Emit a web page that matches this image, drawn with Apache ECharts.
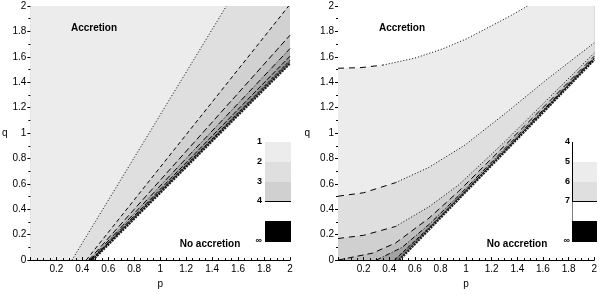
<!DOCTYPE html>
<html><head><meta charset="utf-8">
<script src="https://cdn.jsdelivr.net/npm/echarts@6/dist/echarts.min.js"></script>
<style>html,body{margin:0;padding:0;background:#fff}#c{width:600px;height:294px}</style>
</head><body><div id="c"></div>
<script>
// ---- axis settings ----
const axisMin = 0, axisMax = 2, axisStep = 0.2;
const xName = 'p', yName = 'q';

// ---- left panel: contour lines (p, q), from accretion side toward the no-accretion edge ----
const leftL1 = [[0.32, 0], [1.51, 2]];
const leftL2 = [[0.43, 0], [1.99, 2]];
const leftL3 = [[0.45, 0], [2, 1.77]];
const leftL4 = [[0.46, 0], [2, 1.665]];
const leftL5 = [[0.468, 0], [2, 1.605]];
const leftL6 = [[0.474, 0], [2, 1.572]];
const leftEdge = [[0.48, 0], [2, 1.548]];

// ---- right panel: contour curves (p, q) ----
const rightC1 = [[0, 1.51], [0.18, 1.515], [0.35, 1.535], [0.6, 1.59], [0.81, 1.66], [1.0, 1.74], [1.2, 1.845], [1.35, 1.925], [1.48, 2]];
const rightC2 = [[0, 0.503], [0.2, 0.53], [0.45, 0.61], [0.71, 0.73], [0.99, 0.905], [1.3, 1.15], [1.64, 1.43], [2, 1.71]];
const rightC3 = [[0, 0.17], [0.2, 0.195], [0.45, 0.265], [0.71, 0.42], [0.94, 0.59], [1.3, 0.93], [1.65, 1.28], [2, 1.63]];
const rightC4 = [[0, 0], [0.27, 0.055], [0.45, 0.135], [0.71, 0.33], [0.94, 0.54], [1.3, 0.9], [1.65, 1.25], [2, 1.605]];
const rightC5 = [[0.3, 0], [0.5, 0.1], [0.71, 0.28], [0.94, 0.505], [1.3, 0.875], [1.65, 1.232], [2, 1.592]];
const rightC6 = [[0.44, 0], [0.7, 0.245], [1.0, 0.548], [1.5, 1.066], [2, 1.585]];
const rightEdge = [[0.478, 0], [1.0, 0.541], [1.5, 1.059], [2, 1.577]];

// ---- legend levels ----
const leftLevels = ['1', '2', '3', '4'];
const rightLevels = ['4', '5', '6', '7'];
const infLabel = '\u221e';

// ---- texts ----
const accText = 'Accretion';
const noAccText = 'No accretion';

// ---- styles ----
const leftCurves = [leftL1, leftL2, leftL3, leftL4, leftL5, leftL6, leftEdge];
const leftFills = ['#ececec', '#dfdfdf', '#d1d1d1', '#c2c2c2', '#adadad', '#959595', '#6e6e6e'];
const leftDash = [[1, 2], [4, 3], [6, 3], [6, 2, 1, 2], [5, 2], [3, 2]];
const rightCurves = [rightC1, rightC2, rightC3, rightC4, rightC5, rightC6, rightEdge];
const rightFills = ['#ffffff', '#ececec', '#dfdfdf', '#d0d0d0', '#bdbdbd', '#a3a3a3', '#7a7a7a'];
const rightDash = [[1, 2], [1, 2], [1, 2], [6, 4], [5, 2, 1, 2], [4, 2]];

function perim(pt) {
  const p = pt[0], q = pt[1], e = 1e-6;
  if (Math.abs(p - 2) < e) return q;
  if (Math.abs(q - 2) < e) return 2 + (2 - p);
  if (Math.abs(p) < e) return 4 + (2 - q);
  return 6 + p;
}
const corners = [[2, 2, 2], [4, 0, 2], [6, 0, 0]];
function accretionSide(curve) {
  const ts = perim(curve[0]), te = perim(curve[curve.length - 1]);
  const pts = curve.slice();
  corners.forEach(c => { if (c[0] > te && c[0] < ts) pts.push([c[1], c[2]]); });
  return pts;
}

function fillSeries(curves, fills, idx) {
  const order = curves.map((c, i) => i).reverse();
  return {
    type: 'custom', xAxisIndex: idx, yAxisIndex: idx, z: 1, silent: true, clip: true,
    data: order.map(i => curves[i][0].concat([i])),
    renderItem: function (params, api) {
      const i = order[params.dataIndex];
      const pts = accretionSide(curves[i]).map(pt => api.coord(pt));
      return { type: 'polygon', shape: { points: pts }, style: { fill: fills[i], stroke: null } };
    }
  };
}

function lineSeries(data, idx, type, width, color, z) {
  return {
    type: 'line', xAxisIndex: idx, yAxisIndex: idx, data: data, showSymbol: false, symbol: 'none',
    silent: true, z: z || 3, animation: false,
    lineStyle: { color: color || '#000', width: width || 1, type: type }
  };
}

const series = [fillSeries(leftCurves, leftFills, 0), fillSeries(rightCurves, rightFills, 1)];
for (let i = 0; i < 6; i++) series.push(lineSeries(leftCurves[i], 0, leftDash[i], 1));
series.push(lineSeries(leftEdge, 0, [2, 1], 2.4, '#1e1e1e', 4));
for (let i = 0; i < 6; i++) {
  const c = rightCurves[i];
  if (i < 3) {
    series.push(lineSeries(c.slice(0, 3), 1, [6, 5], 1));
    series.push(lineSeries(c.slice(2), 1, rightDash[i], 1));
  } else {
    series.push(lineSeries(c, 1, rightDash[i], 1));
  }
}
series.push(lineSeries(rightEdge, 1, [2, 1], 2.4, '#1e1e1e', 4));

const FONT = 'Liberation Sans, Arial, sans-serif';
function xAx(gi) {
  return {
    type: 'value', gridIndex: gi, min: axisMin, max: axisMax, interval: axisStep, z: 10,
    name: xName, nameLocation: 'middle', nameGap: 18,
    nameTextStyle: { fontSize: 10, color: '#000', fontFamily: FONT },
    axisLine: { show: true, lineStyle: { color: '#000', width: 1 } },
    axisTick: { show: true, inside: true, length: 3, lineStyle: { color: '#000' } },
    minorTick: { show: true, splitNumber: 4, length: 2, lineStyle: { color: '#000' } },
    axisLabel: { fontSize: 10, color: '#000', margin: 4, fontFamily: FONT, formatter: v => v === 0 ? '' : String(v) },
    splitLine: { show: false }, minorSplitLine: { show: false }
  };
}
function yAx(gi, gap) {
  return {
    type: 'value', gridIndex: gi, min: axisMin, max: axisMax, interval: axisStep, z: 10,
    name: yName, nameLocation: 'middle', nameGap: gap, nameRotate: 0,
    nameTextStyle: { fontSize: 10, color: '#000', fontFamily: FONT },
    axisLine: { show: false },
    axisTick: { show: true, inside: false, length: 3, lineStyle: { color: '#000' } },
    minorTick: { show: true, splitNumber: 2, length: 2, lineStyle: { color: '#000' } },
    axisLabel: { fontSize: 10, color: '#000', margin: 4, fontFamily: FONT },
    splitLine: { show: false }, minorSplitLine: { show: false }
  };
}

function legendGraphics(x0, w, ys, fills, levels, labelX, rightStyle) {
  const g = [];
  for (let i = 0; i < fills.length; i++) {
    if (fills[i]) g.push({ type: 'rect', shape: { x: x0, y: ys[i], width: w, height: ys[i + 1] - ys[i] }, style: { fill: fills[i] } });
  }
  const yl = ys[ys.length - 1] + 0.5;
  g.push({ type: 'line', shape: { x1: x0, y1: yl, x2: x0 + w, y2: yl }, style: { stroke: '#000', lineWidth: 1 } });
  if (rightStyle) {
    g.push({ type: 'line', shape: { x1: x0 + 0.5, y1: ys[0], x2: x0 + 0.5, y2: yl }, style: { stroke: '#000', lineWidth: 1 } });
    g.push({ type: 'line', shape: { x1: x0 + 0.5, y1: yl, x2: x0 + 0.5, y2: 221 }, style: { stroke: '#000', lineWidth: 1, lineDash: [1, 1] } });
  }
  g.push({ type: 'rect', shape: { x: x0, y: 221, width: w, height: 21 }, style: { fill: '#000' } });
  levels.forEach((t, i) => g.push({ type: 'text', x: labelX, y: ys[i], style: { text: t, fill: '#000', font: 'bold 9px ' + FONT, align: 'right', verticalAlign: 'middle' } }));
  g.push({ type: 'text', x: labelX, y: 241, style: { text: infLabel, fill: '#000', font: 'bold 9px ' + FONT, align: 'right', verticalAlign: 'middle' } });
  return g;
}

const graphics = [].concat(
  legendGraphics(265, 26, [142, 162, 182, 201], ['#ececec', '#dfdfdf', '#d0d0d0'], leftLevels, 262, false),
  legendGraphics(572, 25, [142, 162, 182, 201], [null, '#ececec', '#dfdfdf'], rightLevels, 570, true),
  [
    { type: 'text', x: 94, y: 28, style: { text: accText, fill: '#000', font: 'bold 10px ' + FONT, align: 'center', verticalAlign: 'middle' } },
    { type: 'text', x: 402, y: 28, style: { text: accText, fill: '#000', font: 'bold 10px ' + FONT, align: 'center', verticalAlign: 'middle' } },
    { type: 'text', x: 210, y: 244, style: { text: noAccText, fill: '#000', font: 'bold 10px ' + FONT, align: 'center', verticalAlign: 'middle' } },
    { type: 'text', x: 517, y: 244, style: { text: noAccText, fill: '#000', font: 'bold 10px ' + FONT, align: 'center', verticalAlign: 'middle' } }
  ]
);

const chart = echarts.init(document.getElementById('c'), null, { renderer: 'canvas' });
chart.setOption({
  animation: false,
  backgroundColor: '#fff',
  grid: [
    { left: 30, top: 6, width: 260, height: 258 },
    { left: 338, top: 6, width: 259, height: 258 }
  ],
  xAxis: [xAx(0), xAx(1)],
  yAxis: [yAx(0, 18), yAx(1, 28)],
  series: series,
  graphic: graphics.map(g => Object.assign({ z: 100, silent: true }, g))
});
</script></body></html>
